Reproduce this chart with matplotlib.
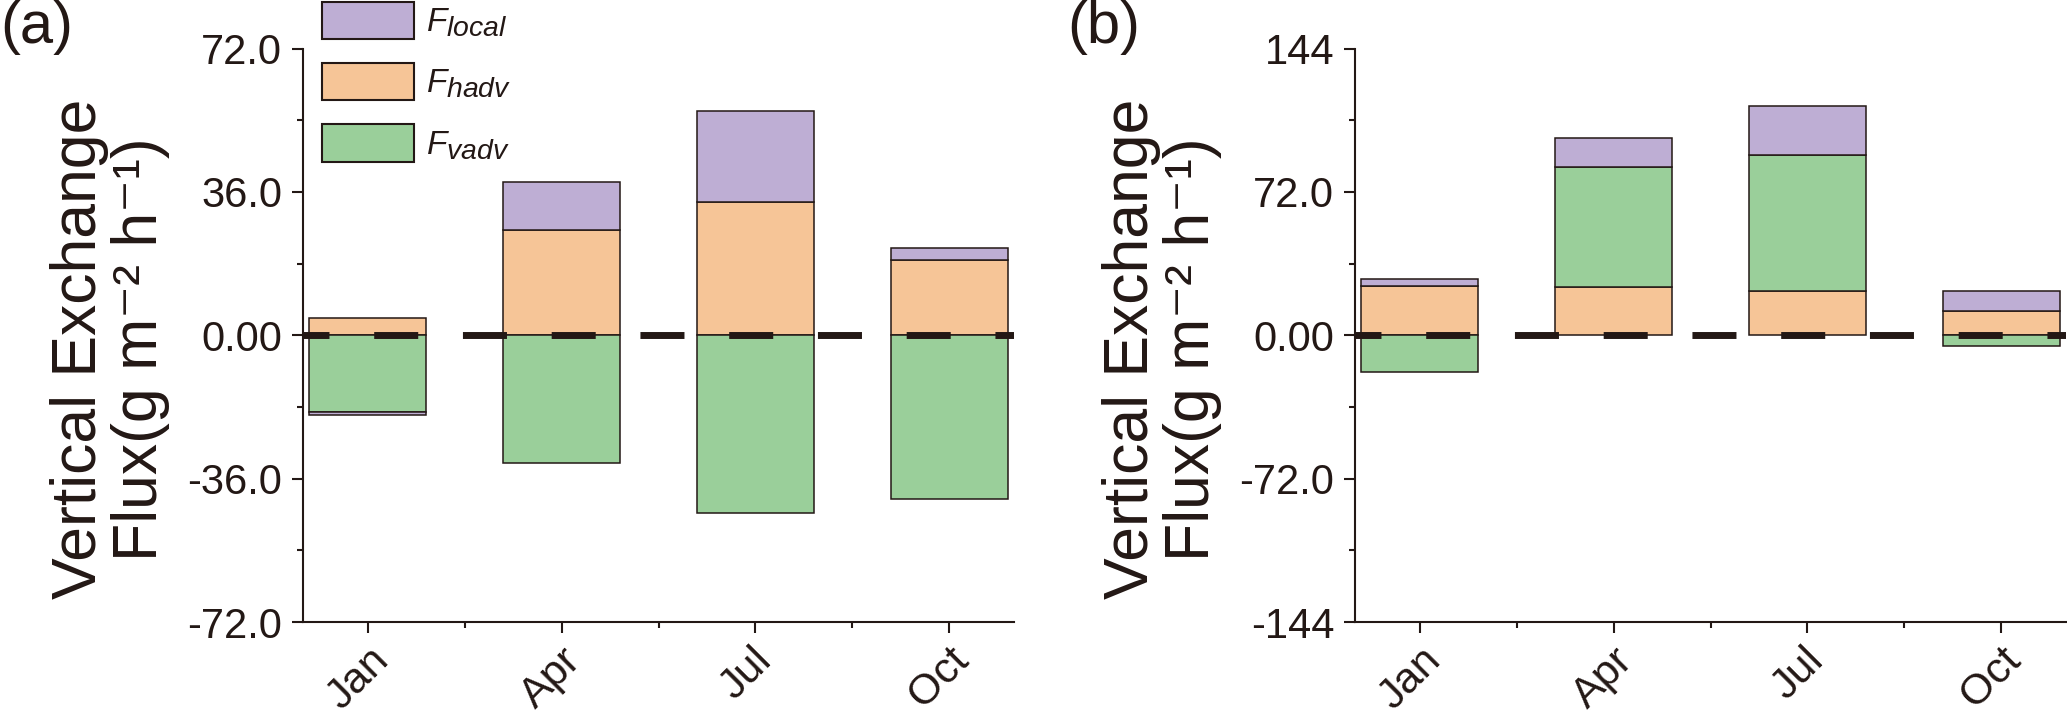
import numpy as np
import matplotlib
matplotlib.use('Agg')
import matplotlib.pyplot as plt
from matplotlib.patches import Patch
from matplotlib.transforms import ScaledTranslation
import matplotlib._mathtext as mt

#%% Data
months = ['Jan', 'Apr', 'Jul', 'Oct']
names = [r'$F_{local}$', r'$F_{hadv}$', r'$F_{vadv}$']

# panel (a)
a_hadv = [4.4, 26.5, 33.5, 18.9]
a_vadv = [-19.3, -32.2, -44.6, -41.0]
a_local = [-0.8, 12.0, 22.8, 3.1]

# panel (b)
b_hadv = [24.7, 24.0, 22.3, 12.4]
b_vadv = [-18.5, 60.5, 68.4, -5.6]
b_local = [3.5, 14.4, 24.6, 9.8]

a_ticks = [-72, -36, 0, 36, 72]
a_minor = [-54, -18, 18, 54]
a_ticklabels = ['-72.0', '-36.0', '0.00', '36.0', '72.0']
b_ticks = [-144, -72, 0, 72, 144]
b_minor = [-108, -36, 36, 108]
b_ticklabels = ['-144', '-72.0', '0.00', '72.0', '144']

#%% Style
c_local = '#BEAED4'
c_hadv = '#F6C597'
c_vadv = '#9ACF9A'
ink = '#231815'

plt.rcParams['font.family'] = ['Liberation Sans', 'DejaVu Sans']
plt.rcParams['mathtext.fontset'] = 'custom'
plt.rcParams['mathtext.rm'] = 'Liberation Sans'
plt.rcParams['mathtext.it'] = 'Liberation Sans:italic'
plt.rcParams['lines.scale_dashes'] = False
plt.rcParams['text.color'] = ink
mt.SHRINK_FACTOR = 0.85  # big subscripts like the legend in the original

W, H = 2067, 725
fig = plt.figure(figsize=(W/100, H/100), dpi=100)


def stack_bars(ax, layers, colors):
    x = np.arange(len(months))
    pos = np.zeros(len(x))
    neg = np.zeros(len(x))
    for vals, c in zip(layers, colors):
        vals = np.asarray(vals, dtype=float)
        bottom = np.where(vals >= 0, pos, neg)
        ax.bar(x, vals, bottom=bottom, width=0.6, color=c, edgecolor=ink,
               linewidth=1.1, zorder=2)
        pos = pos + np.clip(vals, 0, None)
        neg = neg + np.clip(vals, None, 0)


def style_axes(ax, ticks, minor, labels):
    ax.set_xlim(-1/3, 3 + 1/3)
    ax.set_ylim(ticks[0], ticks[-1])
    ax.set_yticks(ticks)
    ax.set_yticklabels(labels)
    ax.set_yticks(minor, minor=True)
    ax.set_xticks(range(len(months)))
    ax.set_xticklabels(months, rotation=45, ha='center')
    ax.set_xticks([0.5, 1.5, 2.5], minor=True)
    for s in ['top', 'right']:
        ax.spines[s].set_visible(False)
    for s in ['left', 'bottom']:
        ax.spines[s].set_linewidth(1.5)
        ax.spines[s].set_color(ink)
    ax.tick_params(which='major', direction='out', length=8, width=1.5,
                   color=ink, labelcolor=ink, labelsize=30)
    ax.tick_params(axis='x', which='major', labelsize=31, pad=5)
    ax.tick_params(axis='y', which='major', pad=7)
    ax.tick_params(which='minor', direction='out', length=4.3, width=1.5, color=ink)
    off = ScaledTranslation(-10/100, 0, fig.dpi_scale_trans)
    for lab in ax.get_xticklabels():
        lab.set_transform(lab.get_transform() + off)
    ax.axhline(0, color=ink, lw=5, linestyle=(13, (31.7, 32.2)), zorder=3)


ax_w = 711/W
ax_b = 1 - 622/H
ax_h = 573.5/H

ax1 = fig.add_axes([303/W, ax_b, ax_w, ax_h])
stack_bars(ax1, [a_hadv, a_vadv, a_local], [c_hadv, c_vadv, c_local])
style_axes(ax1, a_ticks, a_minor, a_ticklabels)

ax2 = fig.add_axes([1355/W, ax_b, ax_w, ax_h])
stack_bars(ax2, [b_hadv, b_vadv, b_local], [c_hadv, c_vadv, c_local])
style_axes(ax2, b_ticks, b_minor, b_ticklabels)

handles = [Patch(facecolor=c, edgecolor=ink, linewidth=1.5)
           for c in [c_local, c_hadv, c_vadv]]
ax1.legend(handles, names, loc='upper left', bbox_to_anchor=(322/W, 1 - 2/H),
           bbox_transform=fig.transFigure, frameon=False, borderpad=0,
           borderaxespad=0, fontsize=24, handlelength=2.76, handleheight=1.34,
           handletextpad=0.35, labelspacing=0.72)

# plain-text superscripts (small, hyphen style as in the original)
ylab = 'Vertical Exchange\nFlux(g m\u207b\u00b2 h\u207b\u00b9)'
fig.text(110/W, 1 - 349/H, ylab, rotation=90, ha='center', va='center',
         fontsize=45, linespacing=1.05, multialignment='center')
fig.text(1162/W, 1 - 349/H, ylab, rotation=90, ha='center', va='center',
         fontsize=45, linespacing=1.05, multialignment='center')

fig.text(0/W, 1 - 43/H, '(a)', fontsize=43, ha='left', va='baseline')
fig.text(1067/W, 1 - 43/H, '(b)', fontsize=43, ha='left', va='baseline')

fig.savefig('out.png', dpi=100)
